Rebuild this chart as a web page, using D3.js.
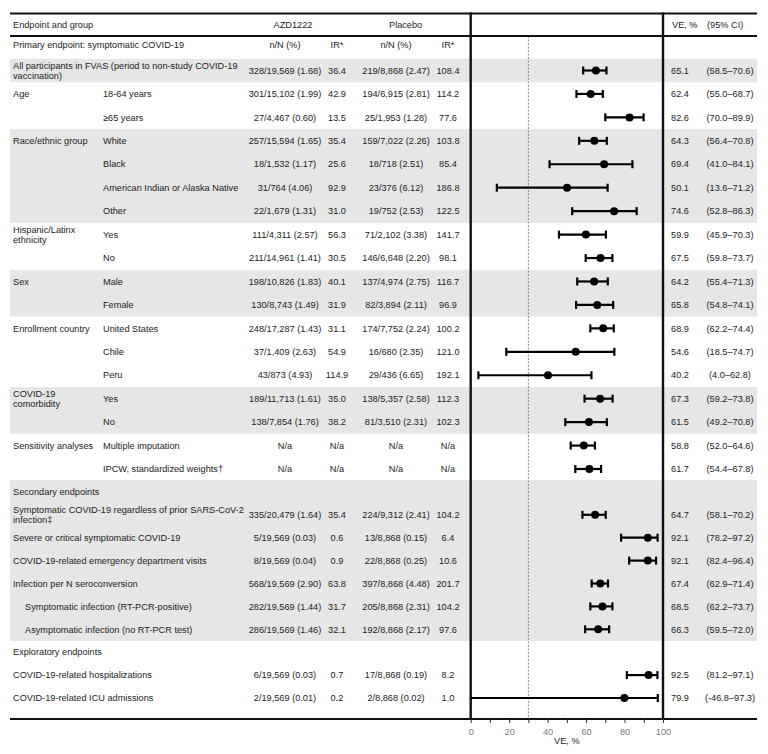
<!DOCTYPE html>
<html>
<head>
<meta charset="utf-8">
<script src="https://cdn.jsdelivr.net/npm/d3@7"></script>
<style>
  body { margin: 0; background: #fff; }
  text { font-family: "Liberation Sans", Arial, sans-serif; font-size: 9.2px; fill: #222; }
</style>
</head>
<body>
<script>
// rows of the table, top to bottom (row 0 = primary endpoint heading)
const groups = [
  'Primary endpoint: symptomatic COVID-19',
  'All participants in FVAS (period to non-study COVID-19\nvaccination)',
  'Age', '',
  'Race/ethnic group', '', '', '',
  'Hispanic/Latinx\nethnicity', '',
  'Sex', '',
  'Enrollment country', '', '',
  'COVID-19\ncomorbidity', '',
  'Sensitivity analyses', '',
  'Secondary endpoints',
  'Symptomatic COVID-19 regardless of prior SARS-CoV-2\ninfection\u2021',
  'Severe or critical symptomatic COVID-19',
  'COVID-19-related emergency department visits',
  'Infection per N seroconversion',
  'Symptomatic infection (RT-PCR-positive)',
  'Asymptomatic infection (no RT-PCR test)',
  'Exploratory endpoints',
  'COVID-19-related hospitalizations',
  'COVID-19-related ICU admissions'
];
const subgroups = [
  '', '', '18-64 years', '\u226565 years',
  'White', 'Black', 'American Indian or Alaska Native', 'Other',
  'Yes', 'No', 'Male', 'Female',
  'United States', 'Chile', 'Peru', 'Yes', 'No',
  'Multiple imputation', 'IPCW, standardized weights\u2020',
  '', '', '', '', '', '', '', '', '', ''
];
const indented = [24, 25];
const azdCases = [
  'n/N (%)', '328/19,569 (1.68)', '301/15,102 (1.99)', '27/4,467 (0.60)',
  '257/15,594 (1.65)', '18/1,532 (1.17)', '31/764 (4.06)', '22/1,679 (1.31)',
  '111/4,311 (2.57)', '211/14,961 (1.41)', '198/10,826 (1.83)', '130/8,743 (1.49)',
  '248/17,287 (1.43)', '37/1,409 (2.63)', '43/873 (4.93)',
  '189/11,713 (1.61)', '138/7,854 (1.76)', 'N/a', 'N/a', '',
  '335/20,479 (1.64)', '5/19,569 (0.03)', '8/19,569 (0.04)', '568/19,569 (2.90)',
  '282/19,569 (1.44)', '286/19,569 (1.46)', '', '6/19,569 (0.03)', '2/19,569 (0.01)'
];
const azdIR = [
  'IR*', '36.4', '42.9', '13.5', '35.4', '25.6', '92.9', '31.0', '56.3', '30.5',
  '40.1', '31.9', '31.1', '54.9', '114.9', '35.0', '38.2', 'N/a', 'N/a', '',
  '35.4', '0.6', '0.9', '63.8', '31.7', '32.1', '', '0.7', '0.2'
];
const placeboCases = [
  'n/N (%)', '219/8,868 (2.47)', '194/6,915 (2.81)', '25/1,953 (1.28)',
  '159/7,022 (2.26)', '18/718 (2.51)', '23/376 (6.12)', '19/752 (2.53)',
  '71/2,102 (3.38)', '146/6,648 (2.20)', '137/4,974 (2.75)', '82/3,894 (2.11)',
  '174/7,752 (2.24)', '16/680 (2.35)', '29/436 (6.65)',
  '138/5,357 (2.58)', '81/3,510 (2.31)', 'N/a', 'N/a', '',
  '224/9,312 (2.41)', '13/8,868 (0.15)', '22/8,868 (0.25)', '397/8,868 (4.48)',
  '205/8,868 (2.31)', '192/8,868 (2.17)', '', '17/8,868 (0.19)', '2/8,868 (0.02)'
];
const placeboIR = [
  'IR*', '108.4', '114.2', '77.6', '103.8', '85.4', '186.8', '122.5', '141.7', '98.1',
  '116.7', '96.9', '100.2', '121.0', '192.1', '112.3', '102.3', 'N/a', 'N/a', '',
  '104.2', '6.4', '10.6', '201.7', '104.2', '97.6', '', '8.2', '1.0'
];
const ve = [
  null, 65.1, 62.4, 82.6, 64.3, 69.4, 50.1, 74.6, 59.9, 67.5, 64.2, 65.8,
  68.9, 54.6, 40.2, 67.3, 61.5, 58.8, 61.7, null,
  64.7, 92.1, 92.1, 67.4, 68.5, 66.3, null, 92.5, 79.9
];
const ciLow = [
  null, 58.5, 55.0, 70.0, 56.4, 41.0, 13.6, 52.8, 45.9, 59.8, 55.4, 54.8,
  62.2, 18.5, 4.0, 59.2, 49.2, 52.0, 54.4, null,
  58.1, 78.2, 82.4, 62.9, 62.2, 59.5, null, 81.2, -46.8
];
const ciHigh = [
  null, 70.6, 68.7, 89.9, 70.8, 84.1, 71.2, 86.3, 70.3, 73.7, 71.3, 74.1,
  74.4, 74.7, 62.8, 73.8, 70.8, 64.6, 67.8, null,
  70.2, 97.2, 96.4, 71.4, 73.7, 72.0, null, 97.1, 97.3
];
// shaded blocks: [first row, last row]
const shaded = [[1, 1], [4, 7], [10, 11], [15, 16], [19, 25]];
const axisTicks = [0, 10, 20, 30, 40, 50, 60, 70, 80, 90, 100];
const refLine = 30;

function drawChart() {
  const W = 768, H = 754;
  const left = 10, right = 757;
  const topY = 13.5, headBottom = 36, bottom = 719;
  const half = 11.7;

  const svg = d3.select('body').append('svg')
    .attr('width', W).attr('height', H);

  const x = d3.scaleLinear().domain([0, 100]).range([470.7, 663]);
  const y = d3.scaleLinear().domain([0, 1, 18, 28]).range([45, 70.5, 469, 698]);

  // grey bands
  svg.selectAll('rect.band').data(shaded).join('rect')
    .attr('class', 'band')
    .attr('x', left).attr('width', right - left)
    .attr('y', d => y(d[0]) - half)
    .attr('height', d => y(d[1]) - y(d[0]) + 2 * half)
    .attr('fill', '#e6e6e6');

  // reference line
  svg.append('line')
    .attr('x1', x(refLine)).attr('x2', x(refLine))
    .attr('y1', headBottom).attr('y2', bottom)
    .attr('stroke', '#555').attr('stroke-width', 0.7)
    .attr('stroke-dasharray', '2,1.5');

  // frame
  const hline = (yy, w) => svg.append('line')
    .attr('x1', left).attr('x2', right).attr('y1', yy).attr('y2', yy)
    .attr('stroke', '#111').attr('stroke-width', w);
  hline(topY, 2);
  hline(headBottom, 2);
  hline(bottom, 2);
  [x(0), x(100)].forEach(xx => svg.append('line')
    .attr('x1', xx).attr('x2', xx).attr('y1', topY - 1).attr('y2', bottom + 1)
    .attr('stroke', '#111').attr('stroke-width', 2.4));

  // header
  const headY = 28;
  const head = [
    ['Endpoint and group', 13, 'start'],
    ['AZD1222', 293, 'middle'],
    ['Placebo', 389, 'start'],
    ['VE, %', 672, 'start'],
    ['(95% CI)', 707, 'start']
  ];
  svg.selectAll('text.head').data(head).join('text')
    .attr('class', 'head')
    .attr('x', d => d[1]).attr('y', headY)
    .attr('text-anchor', d => d[2])
    .text(d => d[0]);

  // table text
  function multiline(sel, str, xx, yy) {
    const lines = str.split('\n');
    const t = sel.append('text').attr('x', xx)
      .attr('y', yy - (lines.length - 1) * 5);
    lines.forEach((l, i) => t.append('tspan')
      .attr('x', xx).attr('dy', i === 0 ? '0.35em' : 10).text(l));
    return t;
  }

  const body = svg.append('g');
  groups.forEach((g, i) => {
    const yy = y(i);
    if (g) multiline(body, g, indented.includes(i) ? 25 : 13, yy);
    if (subgroups[i]) multiline(body, subgroups[i], 103, yy);
    const cells = [[azdCases[i], 285], [azdIR[i], 337], [placeboCases[i], 396], [placeboIR[i], 448]];
    cells.forEach(c => {
      if (!c[0]) return;
      body.append('text').attr('x', c[1]).attr('y', yy).attr('dy', '0.35em')
        .attr('text-anchor', 'middle').text(c[0]);
    });
    if (ve[i] != null) {
      body.append('text').attr('x', 680).attr('y', yy).attr('dy', '0.35em')
        .attr('text-anchor', 'middle').text(ve[i].toFixed(1));
      body.append('text').attr('x', 730).attr('y', yy).attr('dy', '0.35em')
        .attr('text-anchor', 'middle')
        .text(`(${ciLow[i].toFixed(1)}\u2013${ciHigh[i].toFixed(1)})`);
    }
  });

  // forest marks
  const idx = d3.range(ve.length).filter(i => ve[i] != null);
  const marks = svg.append('g');
  idx.forEach(i => {
    const yy = y(i);
    const lo = Math.max(0, ciLow[i]);
    marks.append('line')
      .attr('x1', x(lo)).attr('x2', x(ciHigh[i]))
      .attr('y1', yy).attr('y2', yy)
      .attr('stroke', '#000').attr('stroke-width', 2.2);
    const caps = ciLow[i] >= 0 ? [ciLow[i], ciHigh[i]] : [ciHigh[i]];
    caps.forEach(c => marks.append('line')
      .attr('x1', x(c)).attr('x2', x(c))
      .attr('y1', yy - 4).attr('y2', yy + 4)
      .attr('stroke', '#000').attr('stroke-width', 2.2));
    marks.append('circle')
      .attr('cx', x(ve[i])).attr('cy', yy).attr('r', 4)
      .attr('fill', '#000');
  });

  // axis
  const axis = svg.append('g')
    .attr('transform', `translate(0,${bottom})`)
    .call(d3.axisBottom(x).tickValues(axisTicks).tickSize(4).tickPadding(5)
      .tickFormat(d => d % 20 === 0 ? d : ''));
  axis.select('.domain').remove();
  axis.selectAll('.tick line').attr('stroke', '#333');
  axis.selectAll('.tick text')
    .style('font-family', '"Liberation Sans", Arial, sans-serif')
    .style('font-size', '9.2px').style('fill', '#777');

  svg.append('text')
    .attr('x', (x(0) + x(100)) / 2).attr('y', 744)
    .attr('text-anchor', 'middle')
    .text('VE, %');
}

drawChart();
</script>
</body>
</html>
